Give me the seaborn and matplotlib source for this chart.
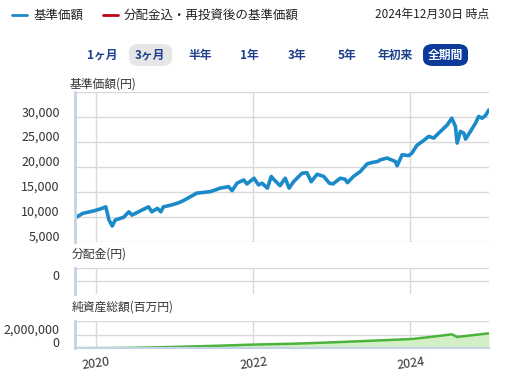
import pandas as pd
import numpy as np
import seaborn as sns
import matplotlib.pyplot as plt
import matplotlib.dates as mdates
from matplotlib.patches import FancyBboxPatch
from matplotlib.transforms import ScaledTranslation

# data
nav_dates = [
    "2019-09-30", "2019-11-01", "2019-12-18", "2020-01-19", "2020-02-15", "2020-03-01",
    "2020-03-16", "2020-03-30", "2020-05-08", "2020-06-01", "2020-06-16", "2020-07-25",
    "2020-09-01", "2020-09-16", "2020-10-12", "2020-10-28", "2020-11-09", "2020-12-10",
    "2021-01-18", "2021-02-10", "2021-04-13", "2021-06-15", "2021-07-31", "2021-09-08",
    "2021-09-24", "2021-10-17", "2021-11-17", "2021-12-02", "2022-01-04", "2022-01-25",
    "2022-02-10", "2022-03-07", "2022-03-25", "2022-04-08", "2022-05-05", "2022-05-29",
    "2022-06-16", "2022-07-07", "2022-08-15", "2022-09-07", "2022-09-27", "2022-10-24",
    "2022-11-24", "2022-12-20", "2023-01-06", "2023-02-09", "2023-03-03", "2023-03-14",
    "2023-04-11", "2023-05-13", "2023-06-13", "2023-07-06", "2023-08-01", "2023-08-15",
    "2023-09-14", "2023-10-23", "2023-10-31", "2023-11-23", "2023-12-24", "2024-01-08",
    "2024-01-31", "2024-03-03", "2024-03-26", "2024-04-18", "2024-05-11", "2024-05-27",
    "2024-06-20", "2024-07-11", "2024-07-28", "2024-08-05", "2024-08-20", "2024-09-05",
    "2024-09-13", "2024-10-06", "2024-10-29", "2024-11-13", "2024-11-29", "2024-12-14",
    "2024-12-30",
]
nav_values = [
    9900, 10700, 11150, 11550, 12000, 9350,
    8150, 9350, 9900, 11000, 10350, 11200,
    12000, 11000, 11700, 11000, 12000, 12300,
    12800, 13250, 14750, 15050, 15750, 16050,
    15250, 16750, 17400, 16600, 17750, 16400,
    16750, 15750, 18100, 17400, 16250, 17750,
    15750, 17050, 18750, 18850, 17050, 18550,
    18100, 16750, 16600, 17750, 17550, 16850,
    18100, 19100, 20600, 20900, 21100, 21450,
    21800, 21100, 20250, 22450, 22300, 22800,
    24350, 25350, 26150, 25800, 26800, 27450,
    28450, 29800, 28150, 24800, 27150, 26800,
    25600, 27150, 28800, 30150, 29800, 30300,
    31450,
]

aum_dates = [
    "2019-09-30", "2020-03-16", "2020-06-30", "2021-01-15", "2021-07-15", "2022-01-04",
    "2022-07-15", "2023-01-06", "2023-07-14", "2024-01-08", "2024-04-15", "2024-07-11",
    "2024-08-05", "2024-09-13", "2024-12-30",
]
aum_values = [
    20000, 40000, 80000, 220000, 380000, 560000,
    700000, 900000, 1150000, 1400000, 1750000, 2100000,
    1700000, 1850000, 2250000,
]

dist_ticks = [0]
nav_ticks = [5000, 10000, 15000, 20000, 25000, 30000]
aum_ticks = [0, 2000000]
year_ticks = ["2020-01-01", "2022-01-01", "2024-01-01"]
year_labels = ["2020", "2022", "2024"]

ranges = ["1ヶ月", "3ヶ月", "半年", "1年", "3年", "5年", "年初来", "全期間"]
range_x = [102, 150, 200, 249, 297, 347, 395, 445]

nav = pd.DataFrame({"date": pd.to_datetime(nav_dates), "value": nav_values})
aum = pd.DataFrame({"date": pd.to_datetime(aum_dates), "value": aum_values})

sns.set_theme(style="white")
plt.rcParams["font.family"] = ["Noto Sans CJK JP", "DejaVu Sans"]

W, H = 508, 376
fig = plt.figure(figsize=(W / 100, H / 100), dpi=100)

def box(l, t, r, b):
    return [l / W, 1 - b / H, (r - l) / W, (b - t) / H]

ax1 = fig.add_axes(box(75, 92.3, 489, 241.7))
ax2 = fig.add_axes(box(75, 267.7, 489, 293.7))
ax3 = fig.add_axes(box(75, 320.7, 489, 348.3))

blue = "#1a8bc8"
grid_c = "#d9d9d9"
spine_c = "#c3d3e6"
text_c = "#333333"
xmin, xmax = pd.Timestamp("2019-09-25"), pd.Timestamp("2024-12-31")
xt = pd.to_datetime(year_ticks)

sns.lineplot(data=nav, x="date", y="value", ax=ax1, color=blue, lw=2.6)
sns.lineplot(data=aum, x="date", y="value", ax=ax3, color="#4cb43c", lw=1.8)
ax3.fill_between(aum["date"], aum["value"], color="#d3efc6", lw=0)

ax1.set_ylim(5000, 35000)
ax2.set_ylim(-1, 1)
ax3.set_ylim(0, 4150000)

for ax, ticks, gl in [(ax1, nav_ticks, nav_ticks + [35000]),
                      (ax2, dist_ticks, [0, 1]),
                      (ax3, aum_ticks, aum_ticks + [4150000])]:
    ax.set_xlim(xmin, xmax)
    for g in gl:
        ax.axhline(g, color=grid_c, lw=1, zorder=0)
    for x in xt:
        ax.axvline(x, color=grid_c, lw=1, zorder=0)
    for s in ax.spines.values():
        s.set_visible(False)
    ax.spines["left"].set_visible(True)
    ax.spines["left"].set_color(spine_c)
    ax.spines["left"].set_linewidth(2)
    ax.set_yticks(ticks)
    ax.set_yticklabels([f"{t:,}" for t in ticks], fontsize=9, color=text_c)
    ax.tick_params(axis="y", length=0, pad=11)
    for lab in ax.get_yticklabels():
        lab.set_transform(lab.get_transform() + ScaledTranslation(0, 6 / 100, fig.dpi_scale_trans))
    ax.set_xlabel("")
    ax.set_ylabel("")
    ax.set_xticks(xt)
    ax.set_xticklabels([])
    ax.tick_params(axis="x", length=0)

ax3.spines["bottom"].set_visible(True)
ax3.spines["bottom"].set_color(spine_c)
ax3.spines["bottom"].set_linewidth(1.5)
ax3.set_xticklabels(year_labels, fontsize=9, color=text_c, rotation=8)
ax3.tick_params(axis="x", pad=5)

# panel titles
fig.text(70 / W, 1 - 84 / H, "基準価額(円)", fontsize=8.5, color=text_c, va="center")
fig.text(72 / W, 1 - 254 / H, "分配金(円)", fontsize=8.5, color=text_c, va="center")
fig.text(72 / W, 1 - 307 / H, "純資産総額(百万円)", fontsize=8.5, color=text_c, va="center")

# legend header
fig.add_artist(plt.Line2D([12 / W, 27 / W], [1 - 15 / H] * 2, color=blue, lw=2))
fig.text(33 / W, 1 - 15 / H, "基準価額", fontsize=9, color="#222222", va="center")
fig.add_artist(plt.Line2D([103 / W, 118 / W], [1 - 15 / H] * 2, color="#c00018", lw=2))
fig.text(124 / W, 1 - 15 / H, "分配金込・再投資後の基準価額", fontsize=9, color="#222222", va="center")
fig.text(489 / W, 1 - 14 / H, "2024年12月30日 時点", fontsize=8.5, color="#222222", va="center", ha="right")

# period buttons
for lab, x in zip(ranges, range_x):
    col = "#1f3f8f"
    if lab == "3ヶ月":
        fig.add_artist(FancyBboxPatch((129 / W, 1 - 66 / H), 43 / W, 22 / H,
                                      boxstyle="round,pad=0,rounding_size=0.02",
                                      transform=fig.transFigure, fc="#e6e6e6", ec="none"))
    if lab == "全期間":
        fig.add_artist(FancyBboxPatch((423 / W, 1 - 66 / H), 45 / W, 22 / H,
                                      boxstyle="round,pad=0,rounding_size=0.02",
                                      transform=fig.transFigure, fc="#0b3a99", ec="none"))
        col = "white"
    fig.text(x / W, 1 - 55 / H, lab, fontsize=8.5, color=col, ha="center", va="center",
             fontweight="bold")

fig.savefig("out.png", dpi=100)
